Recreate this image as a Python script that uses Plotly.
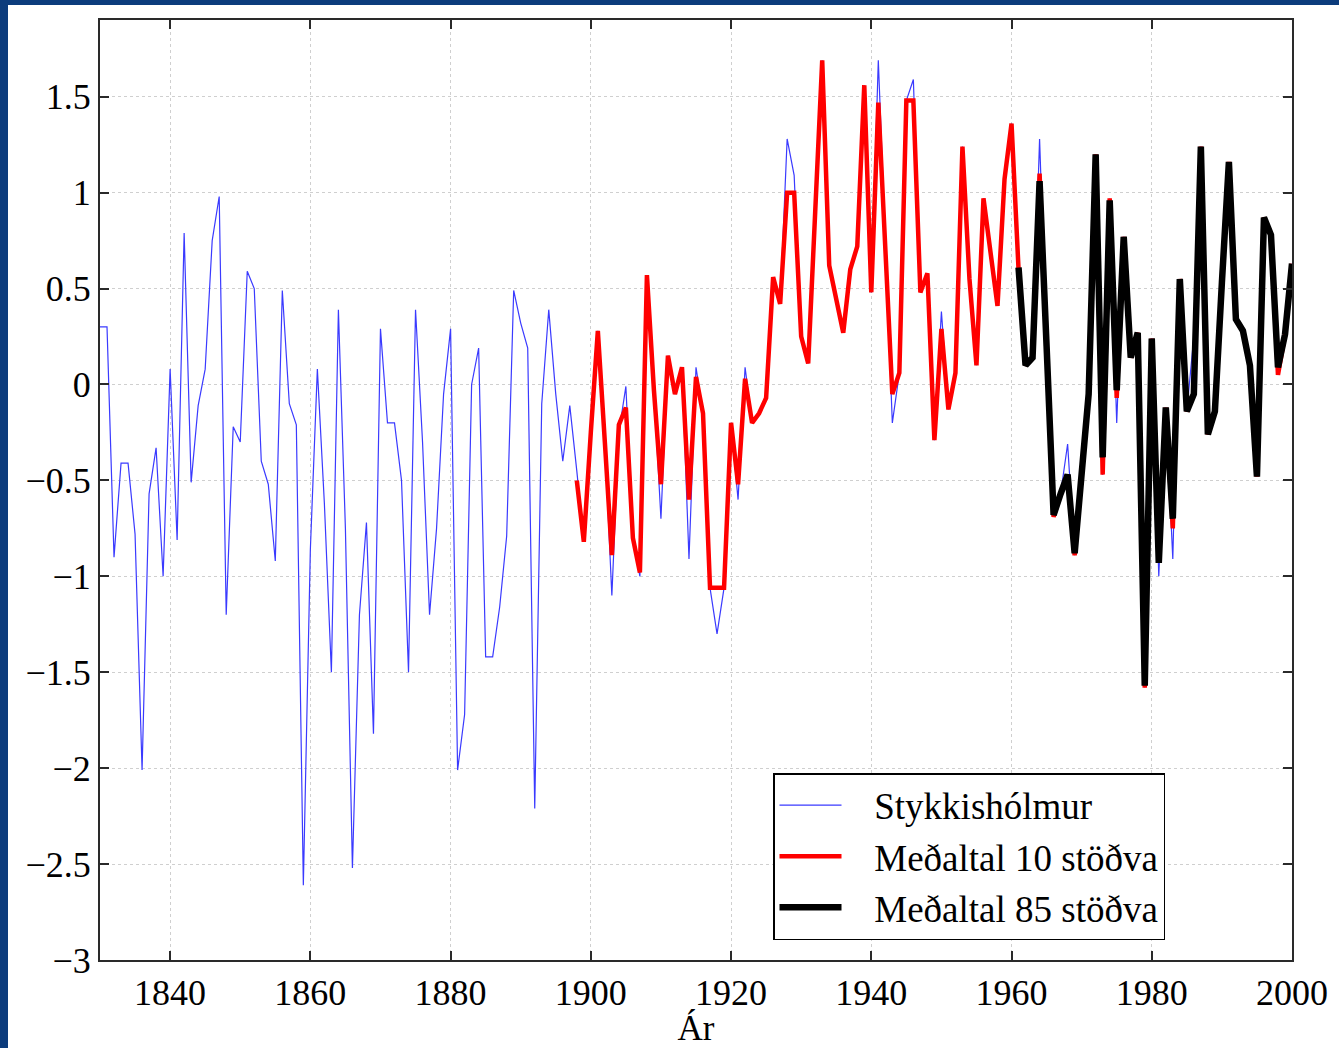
import plotly.graph_objects as go

# ---- data ----
years_blue = list(range(1830, 2001))
stykkisholmur = [
    0.3, 0.3, -0.9, -0.41, -0.41, -0.78, -2.01, -0.57, -0.33, -1.0,          # 1830-1839
    0.08, -0.81, 0.79, -0.51, -0.11, 0.08, 0.75, 0.98, -1.2, -0.22,          # 1840-1849
    -0.30, 0.59, 0.50, -0.40, -0.52, -0.92, 0.49, -0.10, -0.21, -2.61,       # 1850-1859
    -0.86, 0.08, -0.62, -1.5, 0.39, -0.75, -2.52, -1.2, -0.72, -1.82,        # 1860-1869
    0.29, -0.2, -0.2, -0.5, -1.5, 0.39, -0.3, -1.2, -0.75, -0.05,            # 1870-1879
    0.29, -2.01, -1.72, 0.0, 0.19, -1.42, -1.42, -1.16, -0.79, 0.49,         # 1880-1889
    0.32, 0.19, -2.21, -0.1, 0.39, -0.05, -0.4, -0.11, -0.45, -0.82,         # 1890-1899
    -0.25, 0.28, -0.3, -1.1, -0.25, -0.01, -0.8, -1.0, 0.57, -0.03,          # 1900-1909
    -0.7, 0.15, -0.05, 0.09, -0.91, 0.09, -0.15, -1.06, -1.3, -1.06,         # 1910-1919
    -0.2, -0.6, 0.09, -0.2, -0.15, -0.07, 0.56, 0.42, 1.28, 1.09,            # 1920-1929
    0.25, 0.11, 0.9, 1.69, 0.62, 0.45, 0.27, 0.6, 0.72, 1.56,                # 1930-1939
    0.48, 1.69, 0.7, -0.2, 0.06, 1.48, 1.59, 0.48, 0.58, -0.29,              # 1940-1949
    0.38, -0.13, 0.06, 1.24, 0.55, 0.1, 0.97, 0.67, 0.41, 1.07,              # 1950-1959
    1.36, 0.6, 0.1, 0.14, 1.28, 0.2, -0.69, -0.57, -0.31, -0.89,             # 1960-1969
    -0.45, -0.05, 1.2, -0.47, 0.97, -0.2, 0.77, 0.14, 0.27, -1.58,           # 1970-1979
    0.24, -1.0, -0.12, -0.91, 0.55, -0.14, 0.25, 1.24, -0.26, -0.14,         # 1980-1989
    0.53, 1.16, 0.34, 0.28, 0.1, -0.48, 0.87, 0.78, 0.09, 0.26,              # 1990-1999
    0.63,                                                                    # 2000
]

years_red = list(range(1898, 2001))
medaltal_10 = [
    -0.5, -0.82,                                                             # 1898-1899
    -0.25, 0.28, -0.3, -0.89, -0.21, -0.12, -0.8, -0.98, 0.57, -0.03,        # 1900-1909
    -0.52, 0.15, -0.05, 0.09, -0.6, 0.04, -0.15, -1.06, -1.06, -1.06,        # 1910-1919
    -0.2, -0.52, 0.03, -0.2, -0.15, -0.07, 0.56, 0.42, 1.0, 1.0,             # 1920-1929
    0.25, 0.11, 0.9, 1.69, 0.62, 0.45, 0.27, 0.6, 0.72, 1.56,                # 1930-1939
    0.48, 1.47, 0.7, -0.05, 0.06, 1.48, 1.48, 0.48, 0.58, -0.29,             # 1940-1949
    0.29, -0.13, 0.06, 1.24, 0.55, 0.1, 0.97, 0.67, 0.41, 1.07,              # 1950-1959
    1.36, 0.6, 0.1, 0.14, 1.1, 0.2, -0.69, -0.57, -0.47, -0.89,              # 1960-1969
    -0.45, -0.05, 1.2, -0.47, 0.97, -0.07, 0.77, 0.14, 0.27, -1.58,          # 1970-1979
    0.24, -0.93, -0.12, -0.75, 0.55, -0.14, -0.05, 1.24, -0.26, -0.14,       # 1980-1989
    0.53, 1.16, 0.34, 0.28, 0.1, -0.48, 0.87, 0.78, 0.05, 0.26,              # 1990-1999
    0.63,                                                                    # 2000
]

years_black = list(range(1961, 2001))
medaltal_85 = [
    0.61, 0.1, 0.14, 1.06, 0.2, -0.68, -0.57, -0.47, -0.88,                  # 1961-1969
    -0.45, -0.05, 1.2, -0.38, 0.96, -0.03, 0.77, 0.14, 0.27, -1.57,          # 1970-1979
    0.24, -0.93, -0.12, -0.7, 0.55, -0.14, -0.05, 1.24, -0.26, -0.14,        # 1980-1989
    0.53, 1.16, 0.34, 0.28, 0.1, -0.48, 0.87, 0.78, 0.09, 0.26,              # 1990-1999
    0.63,                                                                    # 2000
]

series_names = ["Stykkishólmur", "Meðaltal 10 stöðva", "Meðaltal 85 stöðva"]
x_ticks = [1840, 1860, 1880, 1900, 1920, 1940, 1960, 1980, 2000]
y_ticks = [-3, -2.5, -2, -1.5, -1, -0.5, 0, 0.5, 1, 1.5]

# ---- figure ----
W, H = 1339, 1048
ML, MR, MT, MB = 100, 47, 20, 88
PW, PH = W - ML - MR, H - MT - MB
FONT = "Liberation Serif"
PAD = "\u00a0\u00a0\u00a0"  # gap between legend sample line and label

fig = go.Figure()
fig.add_trace(go.Scatter(x=years_blue, y=stykkisholmur, mode="lines",
                         name=PAD + series_names[0], line=dict(color="#3a3aff", width=1.2)))
fig.add_trace(go.Scatter(x=years_red, y=medaltal_10, mode="lines",
                         name=PAD + series_names[1], line=dict(color="#ff0000", width=4.5)))
fig.add_trace(go.Scatter(x=years_black, y=medaltal_85, mode="lines",
                         name=PAD + series_names[2], line=dict(color="#000000", width=6.5)))

# white slide card behind the chart
fig.add_shape(type="rect", xref="paper", yref="paper", layer="below",
              x0=(8 - ML) / PW, x1=(W + 5 - ML) / PW,
              y0=(PH + MT - (H + 5)) / PH, y1=(PH + MT - 5) / PH,
              fillcolor="white", line=dict(width=0))

axis_common = dict(showline=True, linecolor="#2a2a2a", linewidth=2, mirror="ticks",
                   ticks="inside", ticklen=9, tickwidth=1.5, tickcolor="#2a2a2a",
                   showgrid=True, gridcolor="#cfcfcf", griddash="dot", gridwidth=1,
                   zeroline=False, automargin=False,
                   tickfont=dict(family=FONT, size=36, color="black"))

fig.update_layout(
    width=W, height=H,
    margin=dict(l=ML, r=MR, t=MT, b=MB, pad=0, autoexpand=False),
    paper_bgcolor="#0c3c7c",
    plot_bgcolor="white",
    showlegend=True,
    legend=dict(x=(773 - ML) / PW, y=(PH + MT - 773) / PH, xanchor="left", yanchor="top",
                bgcolor="white", bordercolor="black", borderwidth=1.5,
                font=dict(family=FONT, size=37, color="black"),
                tracegroupgap=0, itemwidth=62),
    xaxis=dict(range=[1830, 2000], tickvals=x_ticks, ticktext=[str(v) for v in x_ticks],
               title=dict(text="Ár", font=dict(family=FONT, size=35, color="black"), standoff=2),
               **axis_common),
    yaxis=dict(range=[-3, 1.9], tickvals=y_ticks, **axis_common),
)

fig.write_html("out.html", config={"displayModeBar": False},
               post_script="document.body.style.margin='0';document.body.style.overflow='hidden';")
